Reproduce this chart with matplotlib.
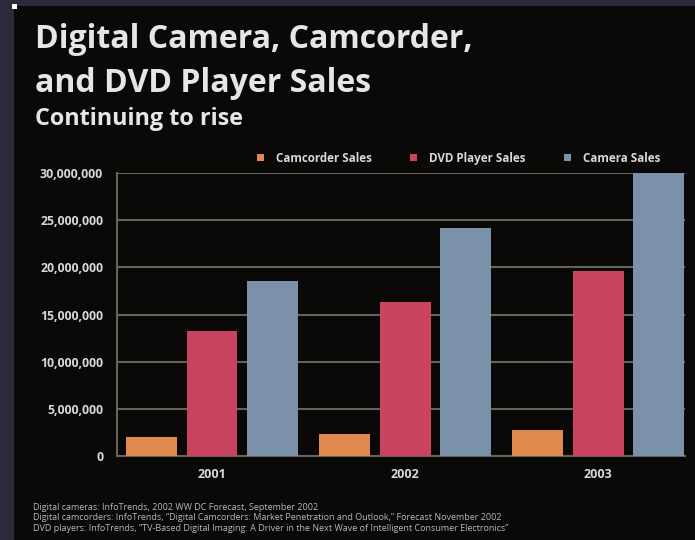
import matplotlib
matplotlib.use("Agg")
import matplotlib.pyplot as plt
import numpy as np
from matplotlib.patches import Rectangle
from matplotlib.ticker import FuncFormatter

# data
years = ["2001", "2002", "2003"]
camcorder_sales = [2.0e6, 2.35e6, 2.75e6]
dvd_sales = [13.2e6, 16.3e6, 19.6e6]
camera_sales = [18.5e6, 24.2e6, 30.0e6]
series_names = ["Camcorder Sales", "DVD Player Sales", "Camera Sales"]
yticks = [0, 5e6, 10e6, 15e6, 20e6, 25e6, 30e6]
footnotes = [
    "Digital cameras: InfoTrends, 2002 WW DC Forecast, September 2002",
    "Digital camcorders: InfoTrends, \u201cDigital Camcorders: Market Penetration and Outlook,\u201d Forecast November 2002",
    "DVD players: InfoTrends, \u201cTV-Based Digital Imaging: A Driver in the Next Wave of Intelligent Consumer Electronics\u201d",
]

colors = ["#e08a50", "#ca4460", "#7b91a9"]
fg = "#d8d8d8"
grid_col = "#64645c"
font = "Open Sans"

W, H = 695, 540
fig = plt.figure(figsize=(W / 100, H / 100), dpi=100, facecolor="#2b2a3c")

# black slide panel + small white marker in the corner
fig.patches.append(Rectangle((14 / W, 0), 1 - 14 / W, 1 - 6 / H, transform=fig.transFigure,
                             facecolor="#0a0907", edgecolor="none", zorder=-2))
fig.patches.append(Rectangle((12 / W, 1 - 9 / H), 5 / W, 5 / H, transform=fig.transFigure,
                             facecolor="white", edgecolor="none", zorder=-1))

ax = fig.add_axes([117 / W, 84 / H, (685 - 117) / W, (456 - 173) / H])
ax.set_facecolor("none")
ax.set_zorder(2)

x = np.arange(len(years))
step = 0.3135
width = 0.264
for i, (vals, c) in enumerate(zip([camcorder_sales, dvd_sales, camera_sales], colors)):
    ax.bar(x + (i - 1) * step, vals, width, color=c, label=series_names[i], zorder=3)

ax.set_xlim(-0.492, 2.45)
ax.set_ylim(0, 30e6)
ax.set_yticks(yticks)
ax.yaxis.set_major_formatter(FuncFormatter(lambda v, p: "{:,.0f}".format(v)))
ax.set_xticks(x)
ax.set_xticklabels(years)
ax.grid(axis="y", color=grid_col, linewidth=1.5, zorder=1)
ax.set_axisbelow(True)

for s in ["top", "right"]:
    ax.spines[s].set_visible(False)
for s in ["left", "bottom"]:
    ax.spines[s].set_color(grid_col)
    ax.spines[s].set_linewidth(1.5)

ax.tick_params(axis="y", length=0, pad=10, labelsize=8.8, labelcolor=fg)
ax.tick_params(axis="x", length=0, pad=9, labelsize=9, labelcolor=fg)
for lab in ax.get_yticklabels() + ax.get_xticklabels():
    lab.set_fontweight("bold")
    lab.set_family(font)

leg = ax.legend(ncol=3, loc="lower right", bbox_to_anchor=(0.956, 1.03), frameon=False,
                handlelength=0.6, handleheight=0.6, handletextpad=1.0, columnspacing=3.3,
                prop={"family": font, "weight": "bold", "size": 8.4},
                borderaxespad=0, borderpad=0)
for t in leg.get_texts():
    t.set_color(fg)

fig.text(35 / W, 1 - 48 / H, "Digital Camera, Camcorder,", fontsize=23, fontweight="bold",
         family=font, color="#e6e6e6", va="baseline")
fig.text(35 / W, 1 - 92 / H, "and DVD Player Sales", fontsize=23, fontweight="bold",
         family=font, color="#e6e6e6", va="baseline")
fig.text(35 / W, 1 - 125 / H, "Continuing to rise", fontsize=16.8, fontweight="bold",
         family=font, color="#e6e6e6", va="baseline")

for k, line in enumerate(footnotes):
    fig.text(33 / W, 1 - (510 + 10.5 * k) / H, line, fontsize=6.5, family=font,
             color="#b8b8b8", va="baseline")

fig.savefig("out.png", dpi=100, facecolor=fig.get_facecolor())
